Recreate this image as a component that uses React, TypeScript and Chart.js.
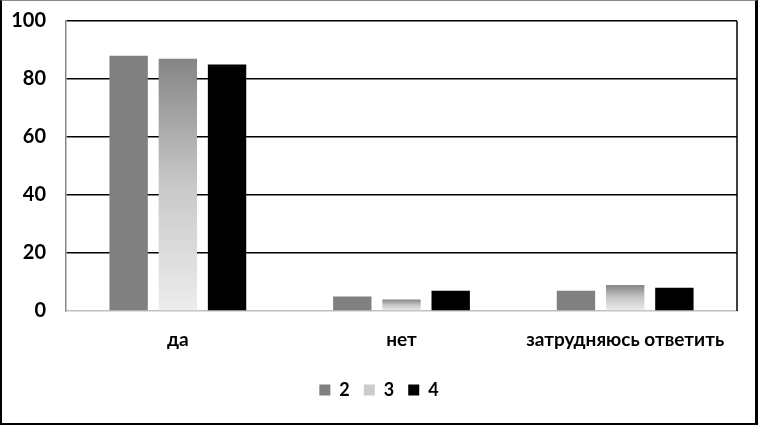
import React, { useEffect, useRef } from "react";
import { Chart, registerables } from "chart.js";

Chart.register(...registerables);

const categories = ["да", "нет", "затрудняюсь ответить"];
const series2 = [88, 5, 7];
const series3 = [87, 4, 9];
const series4 = [85, 7, 8];
const seriesLabels = ["2", "3", "4"];
const yTicks = [0, 20, 40, 60, 80, 100];

const FONT = "Lato, 'Open Sans', sans-serif";

export default function App() {
  const ref = useRef<HTMLCanvasElement | null>(null);

  useEffect(() => {
    if (!ref.current) return;

    const gradientFill = (c: any) => {
      const chart = c.chart;
      const y = chart.scales?.y;
      if (!y || c.raw === undefined) return "#bbbbbb";
      const top = y.getPixelForValue(c.raw);
      const base = y.getPixelForValue(0);
      if (!isFinite(top) || !isFinite(base) || top === base) return "#bbbbbb";
      const g = chart.ctx.createLinearGradient(0, top, 0, base);
      g.addColorStop(0, "#858585");
      g.addColorStop(0.5, "#c8c8c8");
      g.addColorStop(1, "#ededed");
      return g;
    };

    const frame = {
      id: "frame",
      afterDatasetsDraw(chart: any) {
        const { ctx, chartArea } = chart;
        ctx.save();
        ctx.strokeStyle = "#000";
        ctx.lineWidth = 1.5;
        ctx.beginPath();
        ctx.moveTo(chartArea.right, chartArea.top);
        ctx.lineTo(chartArea.right, chartArea.bottom);
        ctx.stroke();
        ctx.restore();
      },
    };

    const chart = new Chart(ref.current, {
      type: "bar",
      data: {
        labels: categories,
        datasets: [
          { label: seriesLabels[0], data: series2, backgroundColor: "#808080" },
          { label: seriesLabels[1], data: series3, backgroundColor: gradientFill as any },
          { label: seriesLabels[2], data: series4, backgroundColor: "#000000" },
        ],
      },
      options: {
        animation: false,
        responsive: false,
        maintainAspectRatio: false,
        layout: { padding: { left: 0, right: 0, top: 21, bottom: 16 } },
        datasets: {
          bar: { barPercentage: 0.78, categoryPercentage: 0.66 },
        } as any,
        scales: {
          x: {
            grid: { display: false },
            border: { display: true, color: "#c0c0c0", width: 1.5 },
            ticks: {
              color: "#000",
              padding: 9,
              font: { family: FONT, size: 19, weight: "bold" },
              maxRotation: 0,
            },
            afterFit: (s: any) => {
              s.height = 56;
              s.paddingLeft = 0;
              s.paddingRight = 0;
            },
          },
          y: {
            min: 0,
            max: 100,
            afterBuildTicks: (s: any) => {
              s.ticks = yTicks.map((v) => ({ value: v }));
            },
            grid: {
              color: (c: any) => (c.tick && c.tick.value === 0 ? "rgba(0,0,0,0)" : "#000"),
              lineWidth: 1.5,
              drawTicks: false,
            },
            border: { display: true, color: "#888888", width: 1.5 },
            ticks: {
              color: "#000",
              padding: 20,
              font: { family: FONT, size: 20, weight: "bold" },
            },
            afterFit: (s: any) => {
              s.width = 66;
              s.paddingTop = 0;
              s.paddingBottom = 0;
            },
          },
          yRight: {
            position: "right",
            min: 0,
            max: 100,
            grid: { display: false, drawTicks: false },
            border: { display: false },
            ticks: { display: false },
            afterFit: (s: any) => {
              s.width = 21;
              s.paddingTop = 0;
              s.paddingBottom = 0;
            },
          },
        },
        plugins: {
          legend: {
            position: "bottom",
            labels: {
              color: "#000",
              boxWidth: 11,
              boxHeight: 11,
              padding: 14,
              font: { family: FONT, size: 18, weight: "bold" },
              generateLabels: (ch: any) =>
                ch.data.datasets.map((d: any, i: number) => ({
                  text: d.label,
                  fillStyle: i === 1 ? "#cccccc" : d.backgroundColor,
                  strokeStyle: "rgba(0,0,0,0)",
                  lineWidth: 0,
                  hidden: false,
                  datasetIndex: i,
                })),
            },
          },
          tooltip: { enabled: false },
        },
      },
      plugins: [frame],
    });

    return () => chart.destroy();
  }, []);

  return (
    <div style={{ position: "absolute", left: 0, top: 0, width: 758, height: 425, background: "#fff" }}>
      <canvas ref={ref} width={758} height={425} style={{ display: "block", width: 758, height: 425 }} />
      <div
        style={{
          position: "absolute",
          left: 0,
          top: 0,
          width: 758,
          height: 425,
          boxSizing: "border-box",
          borderLeft: "2px solid #000",
          borderRight: "3px solid #000",
          borderTop: "1px solid #888",
          borderBottom: "2px solid #000",
          pointerEvents: "none",
        }}
      />
    </div>
  );
}
